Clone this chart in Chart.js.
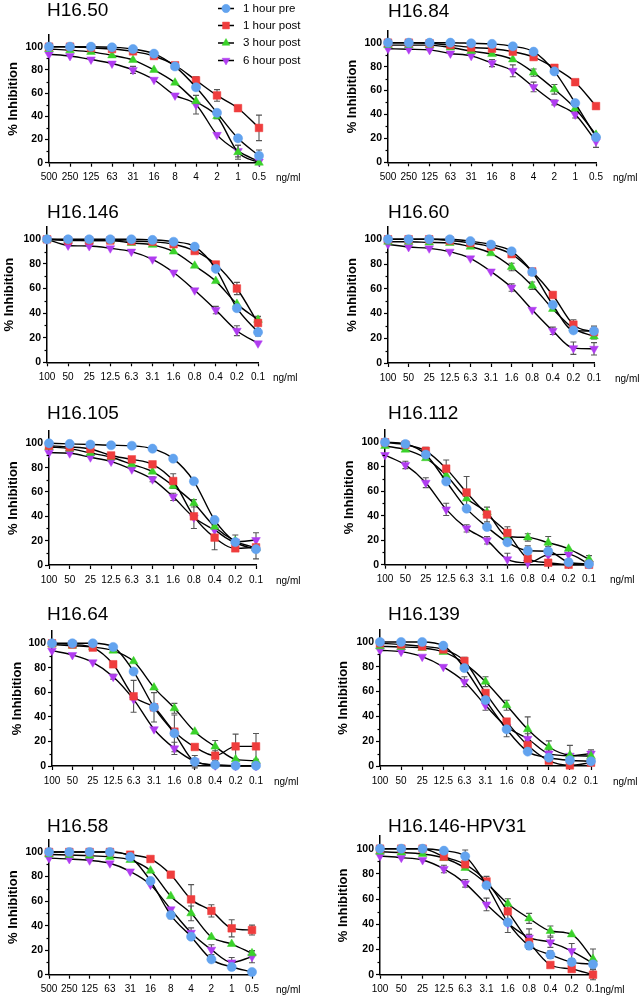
<!DOCTYPE html>
<html>
<head>
<meta charset="utf-8">
<script src="https://cdn.jsdelivr.net/npm/chart.js@4.4.0/dist/chart.umd.min.js"></script>
<style>
  html, body { margin:0; padding:0; background:#fff; }
  #wrap { position:relative; width:642px; height:1000px; }
  #wrap canvas { position:absolute; }
</style>
</head>
<body>
<div id="wrap"></div>
<script>
// ---- data -------------------------------------------------------------
const doseHigh = ['500','250','125','63','31','16','8','4','2','1','0.5'];
const doseLow  = ['100','50','25','12.5','6.3','3.1','1.6','0.8','0.4','0.2','0.1'];
const seriesNames = ['1 hour pre', '1 hour post', '3 hour post', '6 hour post'];
const yTicks = [0, 20, 40, 60, 80, 100];
const yMinorTicks = [10, 30, 50, 70, 90];

// order in every panel: 1h pre, 1h post, 3h post, 6h post
const h1650Values = [
  [100,100,100,99.5,98,94,83,65,43,21,6],
  [100,100,99,98,96,92,84,71,58,47,30],
  [98,97,95.5,92.5,88.5,80,69,53,40,9,0],
  [93.5,92,89,85.5,80,71.5,58,50,24,10,1]
];
const h1650Errors = [
  [0,0,0,0,0,0,0,0,0,0,5],
  [0,0,0,0,0,0,0,3,5,0,11],
  [0,0,0,0,0,0,0,0,2,6,0],
  [0,0,0,0,3,0,0,8,0,5,0]
];
const h1684Values = [
  [100,100,100,100,99.5,99,97,92.5,76,49.5,21],
  [100,100,99.5,98,96,95,92.5,88,79,67,47],
  [98,98,98,96,93,90.5,86,75,61,45,23],
  [95,94.5,94,91,89,83,76.5,63,50,40,17.5]
];
const h1684Errors = [
  [0,0,0,0,0,0,0,0,2,0,0],
  [0,0,0,0,0,0,0,0,0,0,0],
  [0,0,0,0,0,0,0,3,4,0,0],
  [0,0,0,0,0,3,5,4,2,3,5]
];
const h16146Values = [
  [100,100,100,100,100,99.5,98,94,76,44,24.5],
  [100,99,99,99,98.5,98,96,90.5,79.5,60,32],
  [100,99.5,99,99,97,95.5,90,78.5,66,47.5,34.5],
  [100,95,94.5,92.7,90,83.7,73,58.5,42.5,25.7,15.4]
];
const h16146Errors = [
  [0,0,0,0,0,0,0,2,0,0,3],
  [0,0,0,0,0,0,0,0,2,5,5],
  [0,0,0,0,0,0,0,0,0,0,3],
  [0,0,0,0,0,0,0,0,3,4,0]
];
const h1660Values = [
  [100,100,100,100,98.5,95.7,90.3,73.6,47,26.4,25.8],
  [100,100,100,99,97,94,88,74,55,31,25],
  [98,98,97.5,97,94,88.7,77.6,62.5,43.7,28,21.5],
  [96,93.8,92.7,90,84.6,74,61,43,26,12,11.5]
];
const h1660Errors = [
  [0,0,0,0,0,0,0,0,0,0,4],
  [0,0,0,0,0,0,0,0,0,4,3],
  [0,0,0,0,0,0,3,3,0,0,2],
  [0,0,0,0,0,0,3,0,3,5,5]
];
const h16105Values = [
  [100,99.5,99,98.4,98,95.6,87.4,68.8,37,18.8,13],
  [98,97,95.3,90,86.8,82.7,69,40,22.5,13.7,14.5],
  [97,95.6,92,88.5,82.7,76.7,65,50.7,31.5,19.7,14],
  [92.3,91.8,88.5,85,78.6,70.4,56,39,28.8,19.2,20.5]
];
const h16105Errors = [
  [0,0,0,0,0,0,0,2,0,0,8],
  [0,0,0,0,0,0,6,10,10,2,0],
  [0,0,0,0,0,0,0,3,0,5,0],
  [0,0,0,0,0,2,3,0,0,0,6]
];
const h16112Values = [
  [100,98.6,90,68,45.8,30.8,18.3,11.4,11,2,0.5],
  [100,98,93,78.5,59,41,26,5,1.6,0,0],
  [97,94,87,73,54,42.8,23,22.3,18,13,4.4],
  [89.6,81.5,67,45.2,29.7,19.9,4.4,1.6,8,8.4,0.5]
];
const h16112Errors = [
  [0,0,0,0,0,0,0,4,4,0,0],
  [0,0,3,7,13,6,5,0,0,0,0],
  [0,0,0,0,0,0,0,3,5,0,3],
  [0,3,4,5,3,3,5,0,0,4,0]
];
const h1664Values = [
  [100,100,100,97,77,47.8,26.6,3.5,1,0.3,0.3],
  [100,99,96.5,82.9,56.8,47.8,28,15.5,8.4,16,16],
  [99,98,97,94,85.3,63.9,47,28,15.8,5.4,4.3],
  [94,90.5,84.5,72.8,54.3,30,14.4,3.8,0.5,0,0]
];
const h1664Errors = [
  [0,0,0,0,0,0,15,5,0,0,0],
  [0,0,0,0,13,12,0,0,4,10,10.5],
  [0,0,0,0,0,0,4,0,5,0,0],
  [0,0,0,2,0,0,5,0,0,0,0]
];
const h16139Values = [
  [100,100,100,97,79,53.2,29.6,11.6,6.7,4.6,3.8],
  [99,98,96.5,94,84.7,58.9,35.8,16.7,4.3,0.5,2.7],
  [96.5,96,95.2,92,82.8,68,49,29.6,15.3,8.6,8],
  [93.3,92.2,88.2,80,68,49,31.7,22,10,8.3,10]
];
const h16139Errors = [
  [0,0,0,0,0,0,6,0,0,0,0],
  [0,0,0,0,3,0,0,4,0,0,0],
  [0,0,0,0,0,4,4,10,5,8,0],
  [0,0,0,0,4,4,0,4,3,0,3]
];
const h1658Values = [
  [100,100,100,100,96,76.4,48.6,31,12.5,6.3,2.2],
  [100,100,100,100,97.8,94.3,81.5,61.4,52,37.8,36.4],
  [98,97.5,97,96,93.5,84.8,64,50,30.7,25,17.4],
  [95,94.3,93.2,90.8,84.2,73.4,53.3,34.2,20.4,10,14.7]
];
const h1658Errors = [
  [0,0,0,0,0,0,3,0,0,0,0],
  [0,0,0,0,0,0,0,12,5,7,4],
  [0,0,0,0,0,0,0,6,0,0,2],
  [0,0,0,0,0,0,0,4,4,4,5]
];
const hpv31Values = [
  [100,100,100,98.4,94,71,41.5,23,15.9,10,8.2],
  [100,100,100,93.6,87.6,74,50.3,26,7.7,4.5,0],
  [97.6,97,95.8,92.6,84.7,72.5,56.3,44.7,34.7,32,12.4],
  [94.2,92.9,91,83.9,72.5,55.8,40.7,29.4,25.7,18.8,9]
];
const hpv31Errors = [
  [0,0,0,0,5,0,8,0,3,0,4],
  [0,0,0,0,0,4,0,6,0,0,4],
  [0,0,0,0,0,0,4,4,4,0,8],
  [0,0,0,3,3,5,0,7,4,6,0]
];

// ---- look -------------------------------------------------------------
const FONT = "'Liberation Sans', Arial, sans-serif";
const seriesColors = ['#62a3ef', '#ef3d3d', '#3ad22a', '#b03cf0'];
const markers = [
  { pointStyle: 'circle',   radius: 4.6, rotation: 0 },
  { pointStyle: 'rect',     radius: 5.4, rotation: 0 },
  { pointStyle: 'triangle', radius: 5.0, rotation: 0 },
  { pointStyle: 'triangle', radius: 5.0, rotation: 180 }
];

const panels = [
  { title: 'H16.50',        doses: doseHigh, values: h1650Values,  errors: h1650Errors },
  { title: 'H16.84',        doses: doseHigh, values: h1684Values,  errors: h1684Errors },
  { title: 'H16.146',       doses: doseLow,  values: h16146Values, errors: h16146Errors },
  { title: 'H16.60',        doses: doseLow,  values: h1660Values,  errors: h1660Errors },
  { title: 'H16.105',       doses: doseLow,  values: h16105Values, errors: h16105Errors },
  { title: 'H16.112',       doses: doseLow,  values: h16112Values, errors: h16112Errors },
  { title: 'H16.64',        doses: doseLow,  values: h1664Values,  errors: h1664Errors },
  { title: 'H16.139',       doses: doseLow,  values: h16139Values, errors: h16139Errors },
  { title: 'H16.58',        doses: doseHigh, values: h1658Values,  errors: h1658Errors },
  { title: 'H16.146-HPV31', doses: doseLow,  values: hpv31Values,  errors: hpv31Errors }
];

// where each panel sits (local coords inside its 200px tall canvas)
const layouts = [
  { left: 0,   top: 0,   w: 320, axisX: 49, y100: 46.7, y0: 162.7, lastX: 259, ylabX: 13, unitX: 276, titleX: 47, titleY: 16 },
  { left: 320, top: 0,   w: 322, axisX: 68, y100: 42.7, y0: 162.3, lastX: 276, ylabX: 32, unitX: 293, titleX: 68, titleY: 17 },
  { left: 0,   top: 200, w: 320, axisX: 47, y100: 39.3, y0: 162.3, lastX: 258, ylabX: 9,  unitX: 273, titleX: 47, titleY: 18 },
  { left: 320, top: 200, w: 322, axisX: 68, y100: 39.3, y0: 163,   lastX: 274, ylabX: 32, unitX: 295, titleX: 68, titleY: 18 },
  { left: 0,   top: 400, w: 320, axisX: 49, y100: 43.3, y0: 165,   lastX: 256, ylabX: 13, unitX: 276, titleX: 47, titleY: 19 },
  { left: 320, top: 400, w: 322, axisX: 65, y100: 42.3, y0: 164.7, lastX: 269, ylabX: 29, unitX: 290, titleX: 68, titleY: 19 },
  { left: 0,   top: 600, w: 320, axisX: 52, y100: 43.3, y0: 166,   lastX: 256, ylabX: 17, unitX: 274, titleX: 47, titleY: 20 },
  { left: 320, top: 600, w: 322, axisX: 60, y100: 42,   y0: 166,   lastX: 271, ylabX: 23, unitX: 293, titleX: 68, titleY: 20 },
  { left: 0,   top: 800, w: 320, axisX: 49, y100: 52,   y0: 174.7, lastX: 252, ylabX: 13, unitX: 276, titleX: 47, titleY: 32 },
  { left: 320, top: 800, w: 322, axisX: 60, y100: 48.7, y0: 174.7, lastX: 273, ylabX: 23, unitX: 280, titleX: 68, titleY: 32 }
];

const H = 200, X_AXIS_H = 26;

function makePanel(p, lay, withLegend) {
  const cv = document.createElement('canvas');
  cv.width = lay.w; cv.height = H;
  cv.style.left = lay.left + 'px';
  cv.style.top = lay.top + 'px';
  document.getElementById('wrap').appendChild(cv);

  const chartTop = lay.y0 - 1.1 * (lay.y0 - lay.y100);

  const decor = {
    id: 'decor',
    beforeDatasetsDraw(chart) {
      // error bars (SEM)
      const ctx = chart.ctx, ys = chart.scales.y;
      ctx.save();
      ctx.strokeStyle = '#555';
      ctx.lineWidth = 1.1;
      p.errors.forEach((errs, i) => {
        const meta = chart.getDatasetMeta(i);
        errs.forEach((e, j) => {
          if (!e) return;
          const v = p.values[i][j];
          const x = meta.data[j].x;
          const t = ys.getPixelForValue(v + e), b = ys.getPixelForValue(v - e);
          ctx.beginPath();
          ctx.moveTo(x, t); ctx.lineTo(x, b);
          ctx.moveTo(x - 3, t); ctx.lineTo(x + 3, t);
          ctx.moveTo(x - 3, b); ctx.lineTo(x + 3, b);
          ctx.stroke();
        });
      });
      ctx.restore();
    },
    afterDraw(chart) {
      const ctx = chart.ctx, ys = chart.scales.y, a = chart.chartArea;
      ctx.save();
      // minor y ticks
      ctx.strokeStyle = '#000';
      ctx.lineWidth = 1.2;
      yMinorTicks.forEach(v => {
        const y = Math.round(ys.getPixelForValue(v)) + 0.5;
        ctx.beginPath();
        ctx.moveTo(a.left - 2.5, y); ctx.lineTo(a.left, y);
        ctx.stroke();
      });
      // panel title
      ctx.fillStyle = '#000';
      ctx.font = '19px ' + FONT;
      ctx.textAlign = 'left';
      ctx.textBaseline = 'alphabetic';
      ctx.fillText(p.title, lay.titleX, lay.titleY);
      // unit
      ctx.font = '10px ' + FONT;
      ctx.textBaseline = 'middle';
      ctx.fillText('ng/ml', lay.unitX, lay.y0 + 16);
      // legend
      if (withLegend) {
        ctx.font = '11.5px ' + FONT;
        const rows = [8.5, 25.5, 43, 60.5];
        seriesNames.forEach((name, i) => {
          const y = rows[i];
          ctx.strokeStyle = '#000';
          ctx.lineWidth = 1.5;
          ctx.beginPath();
          ctx.moveTo(218, y); ctx.lineTo(234, y);
          ctx.stroke();
          ctx.fillStyle = seriesColors[i];
          ctx.strokeStyle = seriesColors[i];
          ctx.lineWidth = 0.5;
          Chart.helpers.drawPoint(ctx, {
            pointStyle: markers[i].pointStyle,
            radius: markers[i].radius * 0.9,
            rotation: markers[i].rotation,
            borderWidth: 0.5
          }, 226, y);
          ctx.fillStyle = '#000';
          ctx.fillText(name, 243, y);
        });
      }
      ctx.restore();
    }
  };

  const datasets = p.values.map((vals, i) => ({
    label: seriesNames[i],
    data: vals.map((v, j) => ({ x: j, y: v })),
    borderColor: '#000',
    borderWidth: 1.4,
    cubicInterpolationMode: 'monotone',
    pointStyle: markers[i].pointStyle,
    pointRadius: markers[i].radius,
    pointRotation: markers[i].rotation,
    pointBackgroundColor: seriesColors[i],
    pointBorderColor: seriesColors[i],
    pointBorderWidth: 0.5,
    clip: false
  }));

  return new Chart(cv.getContext('2d'), {
    type: 'line',
    data: { datasets },
    options: {
      responsive: false,
      animation: false,
      devicePixelRatio: 1,
      layout: {
        padding: { top: chartTop, left: 0, right: lay.w - lay.lastX, bottom: H - lay.y0 - X_AXIS_H }
      },
      plugins: { legend: { display: false }, tooltip: { enabled: false }, title: { display: false } },
      scales: {
        x: {
          type: 'linear', min: 0, max: 10,
          afterFit: s => { s.height = X_AXIS_H; },
          afterBuildTicks: s => { s.ticks = p.doses.map((d, i) => ({ value: i })); },
          border: { display: true, color: '#000', width: 1.5 },
          grid: { display: true, drawOnChartArea: false, drawTicks: true, tickLength: 4, tickColor: '#000', tickWidth: 1.2 },
          ticks: {
            color: '#000', font: { family: FONT, size: 10 }, padding: 5,
            autoSkip: false, maxRotation: 0, minRotation: 0,
            callback: (v, i) => p.doses[i]
          }
        },
        y: {
          type: 'linear', min: 0, max: 110,
          afterFit: s => { s.width = lay.axisX; },
          afterBuildTicks: s => { s.ticks = yTicks.map(v => ({ value: v })); },
          border: { display: true, color: '#000', width: 1.5 },
          grid: { display: true, drawOnChartArea: false, drawTicks: true, tickLength: 4, tickColor: '#000', tickWidth: 1.2 },
          ticks: { color: '#000', font: { family: FONT, size: 10.5, weight: 'bold' }, padding: 2 },
          title: {
            display: true, text: '% Inhibition', color: '#000',
            font: { family: FONT, size: 13, weight: 'bold' },
            padding: { top: Math.max(0, lay.ylabX - 7.8), bottom: 0 }
          }
        }
      }
    },
    plugins: [decor]
  });
}

panels.forEach((p, i) => makePanel(p, layouts[i], i === 0));
</script>
</body>
</html>
